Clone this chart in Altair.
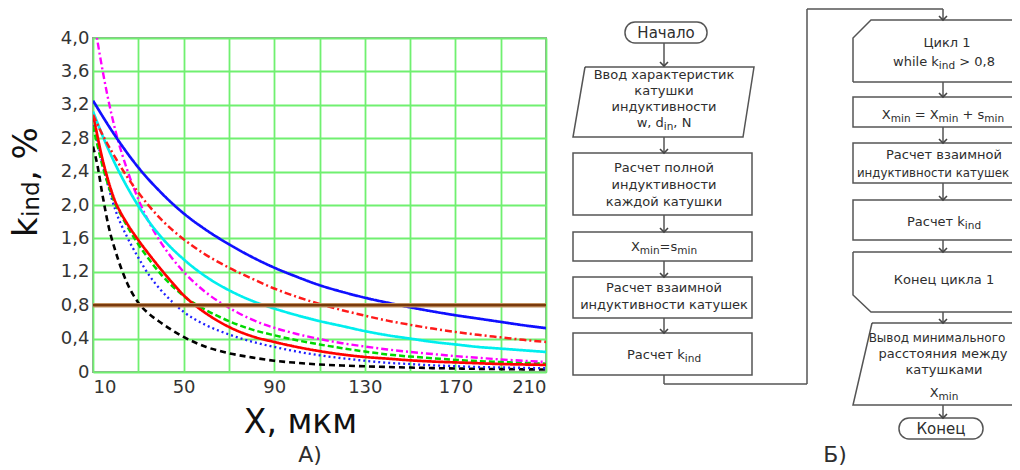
import altair as alt
import pandas as pd

# ---------------- curve data ----------------
blue_x = [10, 20, 30, 40, 50, 60, 70, 80, 90, 100, 110, 120, 130, 140, 150, 160, 170, 180, 190, 200, 210]
blue_y = [3.25, 2.82, 2.45, 2.15, 1.90, 1.70, 1.53, 1.38, 1.25, 1.14, 1.04, 0.96, 0.89, 0.83, 0.775, 0.725, 0.68, 0.64, 0.60, 0.56, 0.525]

reddash_x = [10, 15, 20, 25, 30, 35, 40, 50, 60, 70, 80, 90, 100, 110, 120, 130, 140, 150, 160, 170, 180, 190, 200, 210]
reddash_y = [3.08, 2.80, 2.56, 2.34, 2.15, 1.98, 1.83, 1.59, 1.40, 1.25, 1.12, 1.00, 0.90, 0.815, 0.74, 0.675, 0.615, 0.565, 0.52, 0.48, 0.445, 0.415, 0.385, 0.36]

cyan_x = [10, 15, 20, 25, 30, 35, 40, 50, 60, 70, 80, 90, 100, 110, 120, 130, 140, 150, 160, 170, 180, 190, 200, 210]
cyan_y = [3.12, 2.78, 2.48, 2.22, 1.99, 1.79, 1.62, 1.35, 1.14, 0.98, 0.855, 0.76, 0.68, 0.61, 0.55, 0.49, 0.44, 0.40, 0.36, 0.33, 0.30, 0.28, 0.26, 0.24]

magenta_x = [10, 12, 15, 20, 25, 30, 35, 40, 45, 50, 60, 70, 80, 90, 100, 110, 120, 130, 140, 150, 160, 170, 180, 190, 200, 210]
magenta_y = [4.30, 3.96, 3.50, 2.88, 2.43, 2.07, 1.78, 1.55, 1.36, 1.20, 0.95, 0.77, 0.63, 0.53, 0.455, 0.395, 0.345, 0.305, 0.27, 0.24, 0.215, 0.19, 0.17, 0.15, 0.135, 0.12]

green_x = [10, 12, 14, 16, 18, 20, 22, 25, 30, 35, 40, 45, 50, 60, 70, 80, 90, 100, 110, 120, 130, 140, 150, 160, 170, 180, 190, 200, 210]
green_y = [2.95, 2.71, 2.49, 2.30, 2.14, 2.00, 1.90, 1.75, 1.53, 1.34, 1.17, 1.03, 0.91, 0.74, 0.61, 0.51, 0.44, 0.38, 0.33, 0.285, 0.245, 0.21, 0.185, 0.165, 0.145, 0.13, 0.12, 0.11, 0.10]

red_x = [10, 12, 14, 16, 18, 20, 22, 25, 30, 35, 40, 45, 50, 55, 60, 70, 80, 90, 100, 110, 120, 130, 140, 150, 160, 170, 180, 190, 200, 210]
red_y = [3.10, 2.82, 2.57, 2.36, 2.18, 2.03, 1.92, 1.78, 1.58, 1.40, 1.23, 1.07, 0.92, 0.80, 0.70, 0.54, 0.43, 0.36, 0.30, 0.25, 0.21, 0.18, 0.16, 0.14, 0.125, 0.115, 0.105, 0.095, 0.09, 0.085]

bluedot_x = [10, 12, 14, 16, 18, 20, 25, 30, 35, 40, 45, 50, 60, 70, 80, 90, 100, 110, 120, 130, 140, 150, 160, 170, 180, 190, 200, 210]
bluedot_y = [3.02, 2.76, 2.52, 2.30, 2.10, 1.93, 1.62, 1.37, 1.15, 0.98, 0.84, 0.72, 0.56, 0.45, 0.365, 0.30, 0.245, 0.20, 0.165, 0.135, 0.11, 0.095, 0.08, 0.07, 0.06, 0.055, 0.05, 0.045]

black_x = [10, 12, 14, 17, 20, 25, 30, 35, 40, 50, 60, 70, 80, 90, 100, 110, 120, 130, 140, 150, 160, 170, 180, 190, 200, 210]
black_y = [2.70, 2.47, 2.15, 1.73, 1.44, 1.07, 0.83, 0.69, 0.59, 0.42, 0.30, 0.225, 0.175, 0.135, 0.11, 0.09, 0.078, 0.068, 0.06, 0.053, 0.047, 0.042, 0.038, 0.035, 0.032, 0.03]

threshold = [0.8]

x_grid_values = list(range(10, 211, 20))
y_values = [round(i * 0.4, 1) for i in range(11)]

# ---------------- styles ----------------
series = [
    (black_x, black_y, "#000000", [6, 4], 2.6),
    (bluedot_x, bluedot_y, "#2020ff", [2, 3], 2.3),
    (green_x, green_y, "#00d800", [6, 3], 2.5),
    (magenta_x, magenta_y, "#ff00ff", [7, 3, 2, 3], 2.4),
    (red_x, red_y, "#ff0000", [1, 0], 2.7),
    (cyan_x, cyan_y, "#00eeee", [1, 0], 2.7),
    (reddash_x, reddash_y, "#ff1a1a", [7, 3, 2, 3], 2.5),
    (blue_x, blue_y, "#1010ff", [1, 0], 2.7),
]

FONT = "DejaVu Sans"
W, H = 453, 334
X0, Y0 = 93, 38            # page position of the plot area
TOTAL_W, TOTAL_H = 1004, 458
PAD = {"left": X0 - 8, "top": Y0 - 8, "right": TOTAL_W - (X0 - 8) - W, "bottom": TOTAL_H - (Y0 - 8) - H}

xscale = alt.Scale(domain=[10, 210], nice=False, zero=False)
yscale = alt.Scale(domain=[0, 4.0], nice=False, zero=True)
px_x = alt.Scale(domain=[X0, X0 + W], nice=False, zero=False)
px_y = alt.Scale(domain=[Y0, Y0 + H], nice=False, zero=False, reverse=True)

x_axis = alt.Axis(
    values=x_grid_values,
    labelExpr="(datum.value - 10) % 40 == 0 ? datum.label : ''",
    grid=True, gridColor="#70f070", gridWidth=1.8,
    ticks=False, domain=False, labelOverlap=False,
    labelFont=FONT, labelFontSize=18, labelColor="#333333", labelPadding=6,
    title="X, мкм", titleFont=FONT, titleFontSize=33, titleFontWeight="normal",
    titleColor="#111111", titleX=207, titleY=60, titleAlign="center", titleBaseline="alphabetic",
)
y_axis = alt.Axis(
    values=y_values,
    labelExpr="datum.value == 0 ? '0' : replace(format(datum.value, '.1f'), '.', ',')",
    grid=True, gridColor="#70f070", gridWidth=1.8,
    ticks=False, domain=False, labelOverlap=False,
    labelFont=FONT, labelFontSize=18, labelColor="#333333", labelPadding=4,
    title=None,
)

layers = []
for i, (xs, ys, color, dash, width) in enumerate(series):
    df = pd.DataFrame({"x": xs, "y": ys})
    layers.append(
        alt.Chart(df).mark_line(color=color, strokeDash=dash, strokeWidth=width,
                                interpolate="monotone", clip=True).encode(
            x=alt.X("x:Q", scale=xscale, axis=x_axis if i == 0 else None),
            y=alt.Y("y:Q", scale=yscale, axis=y_axis if i == 0 else None),
        )
    )

thr_df = pd.DataFrame({"y": threshold})
layers.append(alt.Chart(thr_df).mark_rule(color="#c09060", strokeWidth=4.5).encode(
    y=alt.Y("y:Q", scale=yscale, axis=None)))
layers.append(alt.Chart(thr_df).mark_rule(color="#7a3a0c", strokeWidth=2.2).encode(
    y=alt.Y("y:Q", scale=yscale, axis=None)))

# ---------------- text helpers ----------------
CW = {" ": .318, ",": .318, ".": .318, "=": .838, "+": .838, ">": .838, "%": .950,
      "0": .636, "1": .636, "8": .636, "X": .685, "N": .748,
      "a": .613, "c": .550, "d": .635, "e": .615, "h": .634, "i": .278, "k": .579,
      "l": .278, "m": .974, "n": .634, "s": .521, "w": .818,
      "Р": .603, "а": .613, "с": .550, "ч": .600, "е": .615, "т": .573}


def tw(s, size):
    return sum(CW.get(c, 0.62) for c in s) * size


def seg_line(cx, y, parts, size=13, sub=10.5, drop=4):
    total = sum(tw(t, sub if s else size) for t, s in parts)
    x = cx - total / 2
    rows = []
    for t, s in parts:
        fs = sub if s else size
        lead = len(t) - len(t.lstrip(" "))
        rows.append(dict(text=t.strip(" "), x=x + tw(" " * lead, fs), y=y + (drop if s else 0), size=fs))
        x += tw(t, fs)
    return rows


# ---------------- flowchart layout (page pixels) ----------------
LC, RC = 664, 944
center_text = [
    ("Начало", 666, 33, 15),
    ("Ввод характеристик", LC, 75, 13), ("катушки", LC, 91, 13), ("индуктивности", LC, 107, 13),
    ("Расчет полной", LC, 168, 13), ("индуктивности", LC, 185, 13), ("каждой катушки", LC, 202, 13),
    ("Расчет взаимной", LC, 288, 13), ("индуктивности катушек", LC, 305, 13),
    ("Цикл 1", RC + 3, 43, 13),
    ("Расчет взаимной", RC, 155, 13), ("индуктивности катушек", 933, 173, 11.8),
    ("Конец цикла 1", RC, 280, 13),
    ("Вывод минимального", RC - 7, 338, 12), ("расстояния между", RC - 1, 354, 13), ("катушками", RC, 370, 13),
    ("Конец", 941, 429, 15),
    ("А)", 310, 455, 22), ("Б)", 835, 455, 22),
]
ct_df = pd.DataFrame(center_text, columns=["text", "x", "y", "size"])

seg_rows = []
seg_rows += seg_line(LC, 123, [("w, d", False), ("in", True), (", N", False)])
seg_rows += seg_line(LC, 247, [("X", False), ("min", True), ("=s", False), ("min", True)])
seg_rows += seg_line(LC, 355, [("Расчет k", False), ("ind", True)])
seg_rows += seg_line(RC, 62, [("while k", False), ("ind", True), (" > 0,8", False)])
seg_rows += seg_line(RC - 1, 115, [("X", False), ("min", True), (" = X", False), ("min", True), (" + s", False), ("min", True)])
seg_rows += seg_line(RC, 222, [("Расчет k", False), ("ind", True)])
seg_rows += seg_line(RC, 393, [("X", False), ("min", True)])
seg_df = pd.DataFrame(seg_rows)

ytitle_df = pd.DataFrame([
    dict(text="k", x=37, y=237, size=34),
    dict(text="ind", x=39, y=217, size=23),
    dict(text=", %", x=37, y=181, size=34),
])

rects = [  # x1, x2, y1, y2
    (573, 752, 153, 215), (573, 752, 232, 261), (573, 752, 277, 318), (573, 752, 333, 375),
    (853, 1035, 97, 127), (853, 1035, 143, 183), (853, 1035, 200, 240),
]
rect_df = pd.DataFrame(rects, columns=["x1", "x2", "y1", "y2"])
terms = [(625, 707, 22, 43), (899, 983, 418, 439)]
term_df = pd.DataFrame(terms, columns=["x1", "x2", "y1", "y2"])

polys = {
    "input": [(585, 67), (754, 67), (743, 137), (573, 137), (585, 67)],
    "loop_start": [(853, 82), (853, 38), (871, 20), (1017, 20), (1035, 38), (1035, 82), (853, 82)],
    "loop_end": [(853, 252), (1035, 252), (1035, 295), (1017, 312), (871, 312), (853, 295), (853, 252)],
    "output": [(872, 323), (1036, 323), (1017, 405), (853, 405), (872, 323)],
}
poly_df = pd.DataFrame([dict(shape=k, i=i, x=p[0], y=p[1]) for k, pts in polys.items() for i, p in enumerate(pts)])

conns = [
    (LC, 43, LC, 66), (LC, 137, LC, 153), (LC, 215, LC, 232), (LC, 261, LC, 277), (LC, 318, LC, 333),
    (LC, 375, LC, 384), (LC, 384, 807, 384), (807, 384, 807, 9), (807, 9, 943, 9), (943, 9, 943, 20),
    (943, 82, 943, 97), (943, 127, 943, 143), (943, 183, 943, 200), (943, 240, 943, 252),
    (943, 312, 943, 323), (943, 405, 943, 418),
]
conn_df = pd.DataFrame(conns, columns=["x1", "y1", "x2", "y2"])
arrow_df = pd.DataFrame([dict(x=c[2], y=c[3]) for c in conns if c[3] > c[1] and c[0] == c[2] and c[3] != 384])

STROKE = "#555555"
TXT = "#2e2e2e"


def PX(f):
    return alt.X(f, scale=px_x, axis=None)


def PY(f):
    return alt.Y(f, scale=px_y, axis=None)


layers.append(alt.Chart(conn_df).mark_rule(color=STROKE, strokeWidth=1.5).encode(
    x=PX("x1:Q"), x2="x2:Q", y=PY("y1:Q"), y2="y2:Q"))
layers.append(alt.Chart(rect_df).mark_rect(fill="white", stroke=STROKE, strokeWidth=1.5).encode(
    x=PX("x1:Q"), x2="x2:Q", y=PY("y1:Q"), y2="y2:Q"))
layers.append(alt.Chart(term_df).mark_rect(fill="white", stroke=STROKE, strokeWidth=1.5, cornerRadius=10).encode(
    x=PX("x1:Q"), x2="x2:Q", y=PY("y1:Q"), y2="y2:Q"))
layers.append(alt.Chart(poly_df).mark_line(color=STROKE, strokeWidth=1.5).encode(
    x=PX("x:Q"), y=PY("y:Q"), detail="shape:N", order="i:Q"))
layers.append(alt.Chart(arrow_df).mark_point(shape="M-1,-1L0,0L1,-1", size=64, filled=False,
                                             stroke="#444444", strokeWidth=1.6, opacity=1).encode(
    x=PX("x:Q"), y=PY("y:Q")))
layers.append(alt.Chart(ct_df).mark_text(font=FONT, align="center", baseline="middle", color=TXT).encode(
    x=PX("x:Q"), y=PY("y:Q"), text="text:N", size=alt.Size("size:Q", scale=None)))
layers.append(alt.Chart(seg_df).mark_text(font=FONT, align="left", baseline="middle", color=TXT).encode(
    x=PX("x:Q"), y=PY("y:Q"), text="text:N", size=alt.Size("size:Q", scale=None)))
layers.append(alt.Chart(ytitle_df).mark_text(font=FONT, align="left", baseline="alphabetic", angle=270,
                                             color="#111111").encode(
    x=PX("x:Q"), y=PY("y:Q"), text="text:N", size=alt.Size("size:Q", scale=None)))

chart = alt.layer(*layers).resolve_scale(x="independent", y="independent").properties(
    width=W, height=H, padding=PAD, autosize=alt.AutoSizeParams(type="none"),
    background="white",
).configure_view(stroke="#9a9a9a", strokeWidth=2)

chart.save("out.html", embed_options={"renderer": "svg", "actions": False})
